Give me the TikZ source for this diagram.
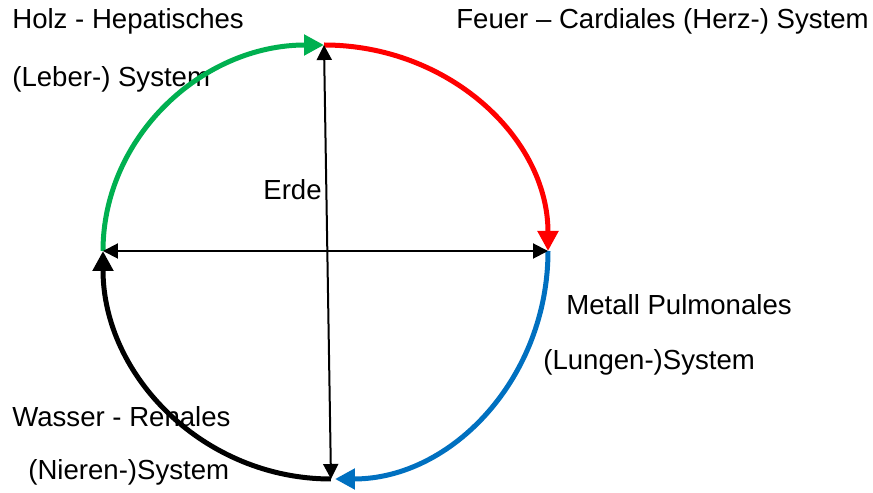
\documentclass[tikz,border=0pt]{standalone}
\usepackage{fontspec}
\setmainfont{Liberation Sans}
\usetikzlibrary{arrows.meta}
\definecolor{holz}{HTML}{00B050}
\definecolor{feuer}{HTML}{FF0000}
\definecolor{metall}{HTML}{0070C0}
\begin{document}
\begin{tikzpicture}[x=0.02cm,y=0.02cm,
  organ/.style={line width=0.1cm,-{Triangle[length=0.4cm,width=0.4cm]}},
  achse/.style={line width=0.04cm,{Triangle[length=0.3cm,width=0.3cm]}-{Triangle[length=0.3cm,width=0.3cm]}},
  lab/.style={anchor=base west,inner sep=0pt,font=\fontsize{15.7pt}{18pt}\selectfont}]
  \useasboundingbox (0,0) rectangle (873,493);
  \coordinate (links) at (103,242);
  \coordinate (oben) at (324,448);
  \coordinate (rechts) at (548,242);
  \coordinate (unten) at (331,14);
  % labels
  \node[lab] (holz1) at (12,464) {Holz - Hepatisches};
  \node[lab] (holz2) at (12,406) {(Leber-) System};
  \node[lab] (feuer) at (456,464) {Feuer – Cardiales (Herz-) System};
  \node[lab] (metall1) at (566,178) {Metall Pulmonales};
  \node[lab] (metall2) at (543,123) {(Lungen-)System};
  \node[lab] (wasser1) at (12,66) {Wasser - Renales};
  \node[lab] (wasser2) at (28,13) {(Nieren-)System};
  \node[lab,anchor=base east] (erde) at (322,293) {Erde};
  % cycle
  \draw[organ,holz] (links) arc[start angle=180,end angle=90,x radius=221,y radius=206];
  \draw[organ,feuer] (oben) arc[start angle=90,end angle=0,x radius=224,y radius=206];
  \draw[organ,metall] (rechts) arc[start angle=0,end angle=-90,x radius=213,y radius=228];
  \draw[organ,black] (unten) arc[start angle=270,end angle=180,x radius=228,y radius=228];
  % axes
  \draw[achse] (unten) -- (oben);
  \draw[achse] (links) -- (rechts);
\end{tikzpicture}
\end{document}
